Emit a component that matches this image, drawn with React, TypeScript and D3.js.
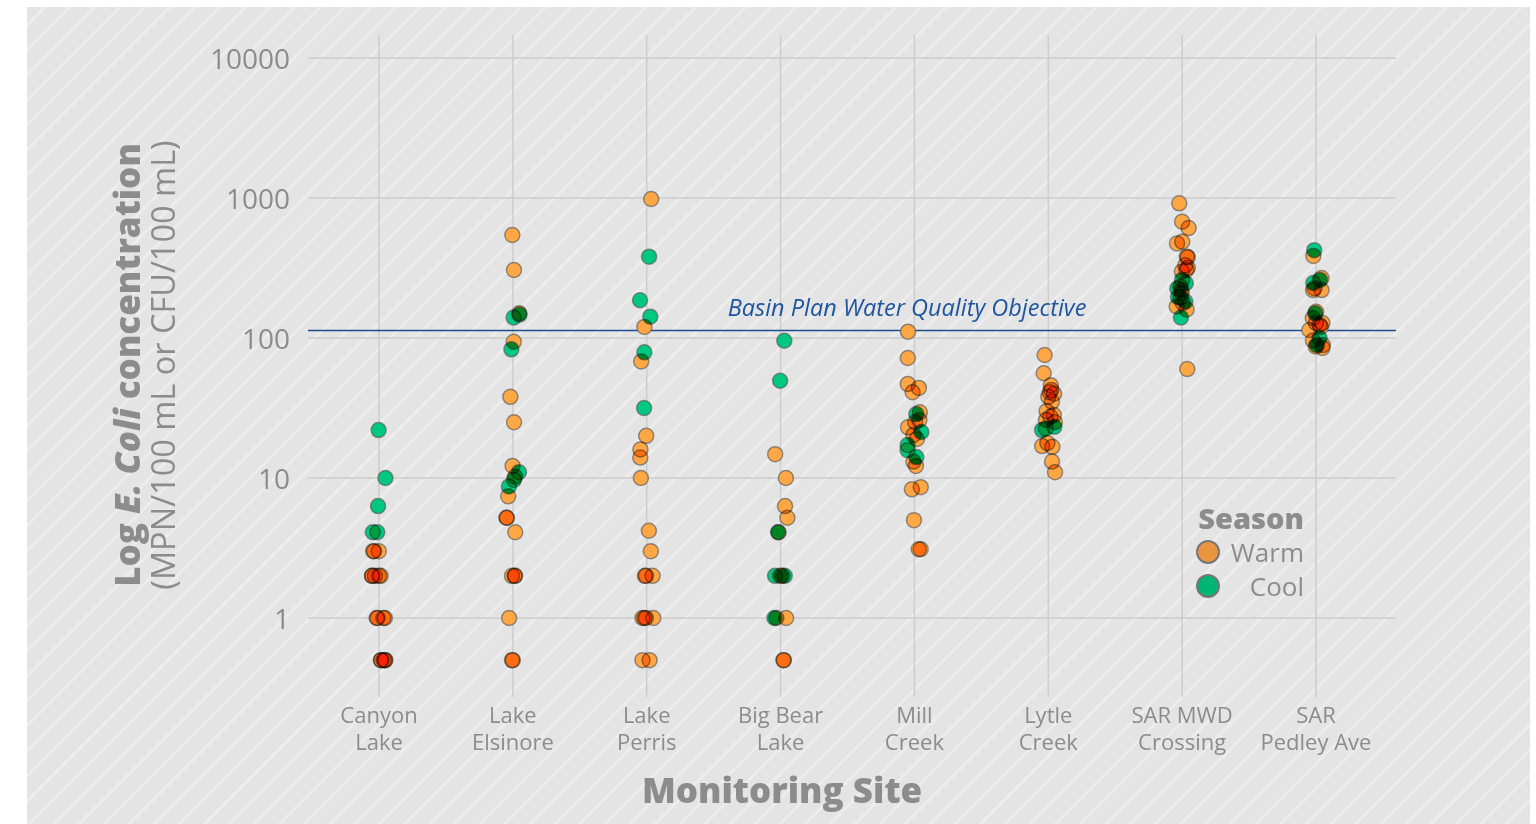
import React from "react";
import * as d3 from "d3";

const sites = [
  "Canyon Lake",
  "Lake Elsinore",
  "Lake Perris",
  "Big Bear Lake",
  "Mill Creek",
  "Lytle Creek",
  "SAR MWD Crossing",
  "SAR Pedley Ave",
];
const siteLabels = [
  ["Canyon", "Lake"],
  ["Lake", "Elsinore"],
  ["Lake", "Perris"],
  ["Big Bear", "Lake"],
  ["Mill", "Creek"],
  ["Lytle", "Creek"],
  ["SAR MWD", "Crossing"],
  ["SAR", "Pedley Ave"],
];

const warmValues: number[][] = [
  [3, 3, 3, 2, 2, 2, 2, 2, 1, 1, 1, 1, 0.5, 0.5, 0.5, 0.5, 0.5],
  [544, 306, 150, 94, 38, 25, 12.2, 10.2, 7.4, 5.2, 5.2, 4.1, 2, 2, 2, 1, 0.5, 0.5],
  [984, 120, 68, 20, 16, 14, 10, 4.2, 3, 2, 2, 2, 1, 1, 1, 1, 0.5, 0.5],
  [14.8, 10, 6.3, 5.2, 4.1, 2, 2, 1, 1, 0.5, 0.5],
  [111, 72, 47, 44, 41, 29.5, 26, 25, 23, 20.3, 19, 13.1, 12.2, 8.6, 8.3, 5, 3.1, 3.1],
  [75.6, 56, 46, 42.6, 41, 40, 38, 35, 30, 28.2, 27.4, 26, 25, 17.8, 16.7, 16.9, 13.1, 11],
  [916, 678, 610, 487, 474, 381, 378, 331, 318, 306, 298, 233, 220, 209, 178, 168, 160, 60],
  [386, 268, 220, 220, 227, 154, 139, 128, 124, 128, 120, 114, 96, 89, 87, 85],
];
const coolValues: number[][] = [
  [22, 10, 6.3, 4.1, 4.1],
  [147, 140, 83, 11, 9.7, 8.7],
  [381, 186, 142, 79, 31.6],
  [95.6, 49.5, 4.1, 2, 2, 1],
  [28.6, 21.3, 17.2, 15.8, 14.1],
  [23.2, 22, 22.6],
  [260, 246, 226, 195, 196, 182, 140],
  [424, 260, 247, 150, 100, 89],
];

const yTicks = [1, 10, 100, 1000, 10000];
const objectiveValue = 113;
const seasons = ["Warm", "Cool"];

const W = 1536;
const H = 824;
const FONT = "'Open Sans', sans-serif";
const TEXT = "#8c8c8c";
const GRID = "#cdcdcd";
const seasonFill: Record<string, string> = { Warm: "#ffa745", Cool: "#00c881" };
const legendFill: Record<string, string> = { Warm: "#e9953f", Cool: "#00b676" };

export default function App() {
  const x = d3.scalePoint<string>().domain(sites).range([379, 1316]);
  const y = d3.scaleLog().domain([1, 10000]).range([618, 58]);
  const jit = d3.randomUniform.source(d3.randomLcg(0.37))(-7, 7);

  type P = { site: string; season: string; value: number; dx: number };
  const points: P[] = [];
  sites.forEach((s, i) => {
    warmValues[i].forEach((v) => points.push({ site: s, season: "Warm", value: v, dx: jit() }));
    coolValues[i].forEach((v) => points.push({ site: s, season: "Cool", value: v, dx: jit() }));
  });

  const gx0 = 308;
  const gx1 = 1396;

  return (
    <svg
      width={W}
      height={H}
      style={{ position: "absolute", left: 0, top: 0, fontFamily: FONT }}
    >
      <defs>
        <pattern
          id="stripes"
          patternUnits="userSpaceOnUse"
          width={17.7}
          height={17.7}
          patternTransform="rotate(45)"
        >
          <rect width={17.7} height={17.7} fill="#e4e4e4" />
          <rect x={0} width={2.8} height={17.7} fill="#ededed" />
        </pattern>
      </defs>
      <rect x={27} y={7} width={1503} height={H - 7} fill="url(#stripes)" />

      {/* grid */}
      {yTicks.map((t) => (
        <line key={t} x1={gx0} x2={gx1} y1={y(t)} y2={y(t)} stroke={GRID} strokeWidth={1.5} />
      ))}
      {sites.map((s) => (
        <line key={s} x1={x(s)} x2={x(s)} y1={35} y2={697} stroke={GRID} strokeWidth={1.5} />
      ))}

      {/* y tick labels */}
      {yTicks.map((t) => (
        <text
          key={t}
          x={290}
          y={y(t)}
          textAnchor="end"
          dominantBaseline="central"
          fontSize={28}
          fill={TEXT}
        >
          {t}
        </text>
      ))}

      {/* x tick labels */}
      {sites.map((s, i) => (
        <text key={s} textAnchor="middle" fontSize={22} fill={TEXT}>
          <tspan x={x(s)} y={723}>{siteLabels[i][0]}</tspan>
          <tspan x={x(s)} y={750}>{siteLabels[i][1]}</tspan>
        </text>
      ))}

      {/* objective line */}
      <line
        x1={gx0}
        x2={gx1}
        y1={y(objectiveValue)}
        y2={y(objectiveValue)}
        stroke="#1f4e8c"
        strokeWidth={1.5}
      />
      <text
        x={907}
        y={y(objectiveValue) - 15}
        textAnchor="middle"
        fontSize={23.5}
        fontStyle="italic"
        fill="#1d55a0"
      >
        Basin Plan Water Quality Objective
      </text>

      {/* points */}
      <g style={{ isolation: "isolate" }}>
        {points.map((p, i) => (
          <circle
            key={i}
            cx={(x(p.site) as number) + p.dx}
            cy={y(p.value)}
            r={7.5}
            fill={seasonFill[p.season]}
            stroke="#5a5a5a"
            strokeOpacity={0.65}
            strokeWidth={1.5}
            style={{ mixBlendMode: "multiply" }}
          />
        ))}
      </g>

      {/* axis titles */}
      <text x={782} y={803} textAnchor="middle" fontSize={35} fontWeight={800} fill={TEXT}>
        Monitoring Site
      </text>
      <g transform="translate(126,365) rotate(-90)">
        <text x={0} y={0} textAnchor="middle" dominantBaseline="central" fontSize={35} fontWeight={800} fill={TEXT}>
          <tspan>Log </tspan>
          <tspan fontStyle="italic">E. Coli</tspan>
          <tspan> concentration</tspan>
        </text>
      </g>
      <g transform="translate(162,365) rotate(-90)">
        <text x={0} y={0} textAnchor="middle" dominantBaseline="central" fontSize={32.5} fill={TEXT}>
          (MPN/100 mL or CFU/100 mL)
        </text>
      </g>

      {/* legend */}
      <text x={1304} y={517} textAnchor="end" dominantBaseline="central" fontSize={29} fontWeight={800} fill={TEXT}>
        Season
      </text>
      {seasons.map((s, i) => (
        <g key={s}>
          <circle cx={1208} cy={552 + i * 34} r={11} fill={legendFill[s]} stroke="#777" strokeWidth={2} />
          <text x={1304} y={552 + i * 34} textAnchor="end" dominantBaseline="central" fontSize={26} fill={TEXT}>
            {s}
          </text>
        </g>
      ))}
    </svg>
  );
}
